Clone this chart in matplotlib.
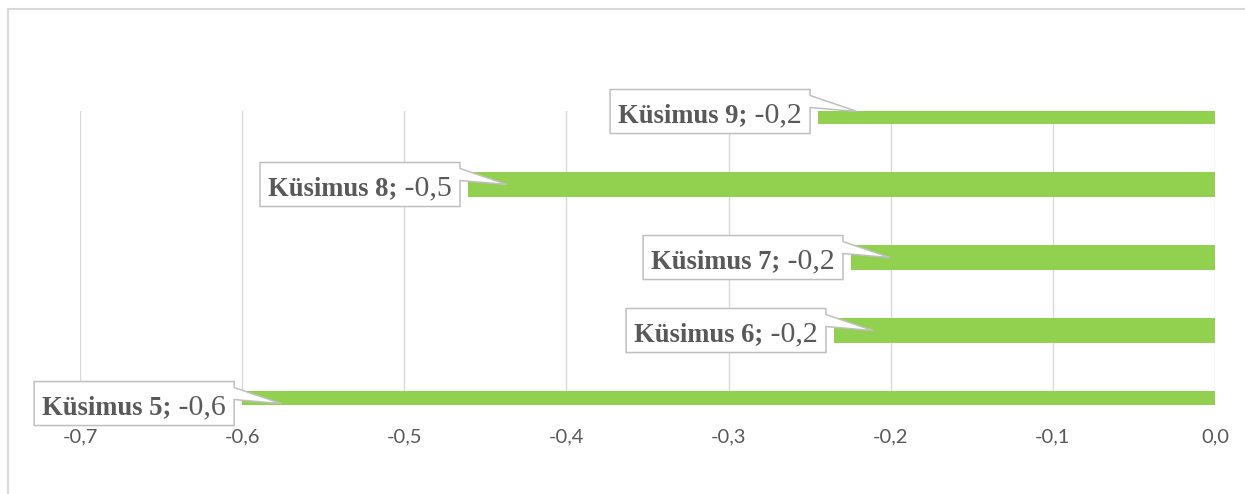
import matplotlib
matplotlib.use('Agg')
import matplotlib.pyplot as plt
from matplotlib.patches import Polygon, Rectangle
from matplotlib.transforms import IdentityTransform

# Andmed: küsimused ja nende keskmised väärtused
categories = ['Küsimus 5', 'Küsimus 6', 'Küsimus 7', 'Küsimus 8', 'Küsimus 9']
values = [-0.600, -0.235, -0.2245, -0.4607, -0.2448]
xticks = [-0.7, -0.6, -0.5, -0.4, -0.3, -0.2, -0.1, 0.0]

GREEN = '#92D050'
TEXT = '#595959'
GRID = '#D9D9D9'
EDGE = '#BFBFBF'


def fmt(v):
    return f'{v:.1f}'.replace('.', ',')


W, H = 1245, 494
fig = plt.figure(figsize=(W / 100, H / 100), dpi=100)
ax = fig.add_axes([80 / W, 89 / H, 1135 / W, 294 / H])

ypos = list(range(len(categories)))
ax.barh(ypos, values, height=0.34, color=GREEN, zorder=2)

ax.set_xlim(-0.7, 0.0)
ax.set_ylim(-0.02, 4.007)
ax.set_xticks(xticks)
ax.set_xticklabels([fmt(t) for t in xticks], fontsize=14.5, family='Lato', color=TEXT)
ax.set_yticks([])
ax.tick_params(axis='x', length=0, pad=17)
for s in ax.spines.values():
    s.set_visible(False)
ax.grid(axis='x', color=GRID, linewidth=1.0)
ax.set_axisbelow(True)

# Andmesildid: valge kast koos noolega tulba otsa juurde
ident = IdentityTransform()
renderer = fig.canvas.get_renderer()
for y, name, v in zip(ypos, categories, values):
    tx, ty = ax.transData.transform((v, y))
    tx += 39
    right = tx - 47
    top, bottom = ty + 22, ty - 22
    base = ty - 11
    val = fig.text(right - 8, base, ' ' + fmt(v), transform=ident, ha='right', va='baseline',
                   fontsize=21.5, family='Liberation Serif', color=TEXT, zorder=4)
    wv = val.get_window_extent(renderer).width
    lab = fig.text(right - 8 - wv, base, name + ';', transform=ident, ha='right', va='baseline',
                   fontsize=19.2, family='Liberation Serif', fontweight='bold', color=TEXT, zorder=4)
    wl = lab.get_window_extent(renderer).width
    left = right - 8 - wv - wl - 8
    callout = Polygon([(left, top), (right, top), (right, top - 6), (tx, ty),
                       (right, top - 18), (right, bottom), (left, bottom)],
                      closed=True, transform=ident, facecolor='white', edgecolor=EDGE,
                      linewidth=1.1, zorder=3)
    fig.add_artist(callout)

# Diagrammi raam
fig.add_artist(Rectangle((8, -20), W + 40, H - 9 + 20, transform=ident, fill=False,
                         edgecolor=GRID, linewidth=1.5, zorder=0))

fig.savefig('out.png', dpi=100)
